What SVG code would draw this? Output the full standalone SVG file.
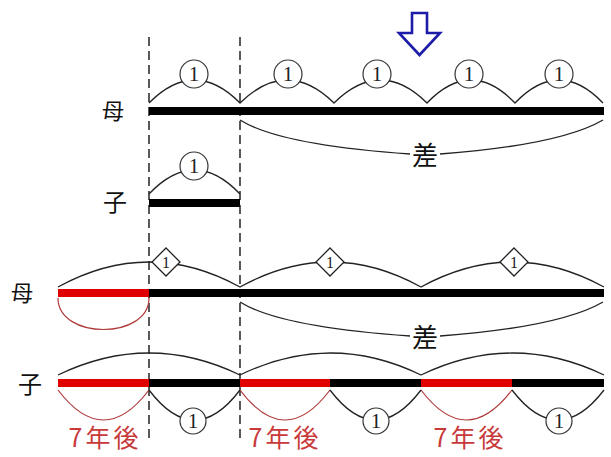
<svg xmlns="http://www.w3.org/2000/svg" width="611" height="457" viewBox="0 0 611 457">
<style>
.bar{stroke:#000;stroke-width:8;fill:none}
.rbar{stroke:#e00000;stroke-width:8;fill:none}
.arc{stroke:#222;stroke-width:1.3;fill:none}
.rarc{stroke:#b03a3a;stroke-width:1.2;fill:none}
.dash{stroke:#000;stroke-width:1.3;stroke-dasharray:9 5;fill:none}
.circ{fill:#fff;stroke:#333;stroke-width:1.2}
.dia{fill:#fff;stroke:#222;stroke-width:1.3}
.num{font-family:"Liberation Serif",serif;font-size:21px;fill:#222;text-anchor:middle}
.dnum{font-family:"Liberation Serif",serif;font-size:16px;fill:#222;text-anchor:middle}
.lab{font-family:"Noto Sans CJK JP",sans-serif;fill:#111;text-anchor:middle}
.red{font-family:"Noto Sans CJK JP",sans-serif;fill:#c83a3a;font-size:25px;letter-spacing:3px;text-anchor:middle}
</style>
<g id="connectors">
<line class="dash" x1="149" y1="37" x2="149" y2="440"/>
<line class="dash" x1="240" y1="37" x2="240" y2="440"/>
<path class="arc" d="M149 103 Q194.5 57 240 103 Q287 57 334 103 Q380.5 57 427 103 Q471 57 515 103 Q559 57 603 103"/>
<path class="arc" d="M240 120 Q280 145 410 154"/>
<path class="arc" d="M440 154 Q560 145 603 120"/>
<path class="arc" d="M149 194 Q194.5 146 240 194"/>
<path class="arc" d="M58 287 Q149 237 240 287 Q330.5 237 421 287 Q512.5 237 604 287"/>
<path class="rarc" d="M58 298 C58 340 149 340 149 298"/>
<path class="arc" d="M240 302 Q280 327 410 336"/>
<path class="arc" d="M440 336 Q560 327 603 302"/>
<path class="arc" d="M58 375 Q149 331 240 375 Q330.5 331 421 375 Q512.5 331 604 375"/>
<path class="rarc" d="M58 390 Q103.5 450 149 390"/>
<path class="rarc" d="M240 390 Q285 450 330 390"/>
<path class="rarc" d="M421 390 Q466.5 450 512 390"/>
<path class="arc" d="M149 390 Q194.5 450 240 390"/>
<path class="arc" d="M330 390 Q375.5 450 421 390"/>
<path class="arc" d="M512 390 Q558 450 604 390"/>
</g>
<g id="arrow">
<polygon points="412,13 427,13 427,33 440,33 419.5,55 399,33 412,33" fill="none" stroke="#1c1ca8" stroke-width="2.6" stroke-linejoin="miter"/>
</g>
<g id="mother1">
<line class="bar" x1="149" y1="111" x2="604" y2="111"/>
<text class="lab" x="113" y="119" font-size="22">母</text>
<circle class="circ" cx="194" cy="74" r="14"/><text class="num" x="194" y="81">1</text>
<circle class="circ" cx="288" cy="74" r="14"/><text class="num" x="288" y="81">1</text>
<circle class="circ" cx="377" cy="74" r="14"/><text class="num" x="377" y="81">1</text>
<circle class="circ" cx="469" cy="74" r="14"/><text class="num" x="469" y="81">1</text>
<circle class="circ" cx="559" cy="74" r="14"/><text class="num" x="559" y="81">1</text>
<text class="lab" x="425" y="165" font-size="26">差</text>
</g>
<g id="child1">
<line class="bar" x1="149" y1="203" x2="240" y2="203"/>
<text class="lab" x="115" y="211" font-size="24">子</text>
<circle class="circ" cx="194" cy="166" r="14"/><text class="num" x="194" y="173">1</text>
</g>
<g id="mother2">
<line class="rbar" x1="58" y1="293" x2="149" y2="293"/>
<line class="bar" x1="149" y1="293" x2="604" y2="293"/>
<text class="lab" x="22" y="301" font-size="22">母</text>
<polygon class="dia" points="166,248 180,262 166,276 152,262"/><text class="dnum" x="166" y="268">1</text>
<polygon class="dia" points="330,248 344,262 330,276 316,262"/><text class="dnum" x="330" y="268">1</text>
<polygon class="dia" points="514,248 528,262 514,276 500,262"/><text class="dnum" x="514" y="268">1</text>
<text class="lab" x="425" y="347" font-size="26">差</text>
</g>
<g id="child2">
<line class="rbar" x1="58" y1="383" x2="149" y2="383"/>
<line class="bar" x1="149" y1="383" x2="240" y2="383"/>
<line class="rbar" x1="240" y1="383" x2="330" y2="383"/>
<line class="bar" x1="330" y1="383" x2="421" y2="383"/>
<line class="rbar" x1="421" y1="383" x2="512" y2="383"/>
<line class="bar" x1="512" y1="383" x2="604" y2="383"/>
<text class="lab" x="30" y="393" font-size="24">子</text>
<circle class="circ" cx="193" cy="421" r="13"/><text class="num" x="193" y="428">1</text>
<circle class="circ" cx="376" cy="421" r="13"/><text class="num" x="376" y="428">1</text>
<circle class="circ" cx="559" cy="421" r="13"/><text class="num" x="559" y="428">1</text>
<text class="red" x="105" y="447">7年後</text>
<text class="red" x="285" y="447">7年後</text>
<text class="red" x="470" y="447">7年後</text>
</g>
</svg>
